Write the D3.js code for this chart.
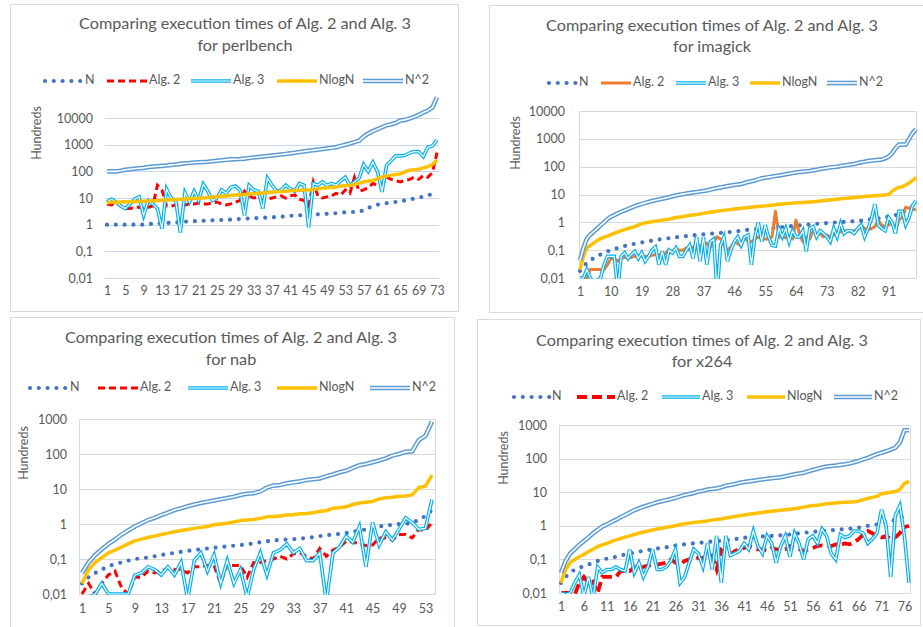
<!DOCTYPE html>
<html lang="en">
<head>
<meta charset="UTF-8" />
<script src="https://d3js.org/d3.v7.min.js"></script>
<style>
  body { margin: 0; background: #fff; }
  svg text { font-family: Lato, "Open Sans", sans-serif; fill: #595959; }
</style>
</head>
<body>
<div id="chart"></div>
<script>
// series names and y tick values
var seriesNames = ["N", "Alg. 2", "Alg. 3", "NlogN", "N^2"];
var ticksTop = [0.01, 0.1, 1, 10, 100, 1000, 10000];
var ticksBottom = [0.01, 0.1, 1, 10, 100, 1000];

// perlbench (73 runs), values in hundreds
var perlN = [1,1,1,1,1,1,1,1,1,1.05,
  1.08,1.1,1.12,1.15,1.18,1.2,1.25,1.3,1.32,1.35,
  1.38,1.4,1.43,1.45,1.48,1.5,1.52,1.55,1.6,1.63,
  1.67,1.7,1.74,1.78,1.82,1.85,1.88,1.95,2.0,2.05,
  2.15,2.2,2.25,2.3,2.35,2.4,2.45,2.5,2.55,2.6,
  2.7,2.8,2.9,2.95,3.0,3.1,3.4,4.2,5,5.6,
  6,6.4,6.8,7.1,7.5,8,8.6,9.5,10.5,11,
  12.5,14,15];
var perlAlg2 = [6,5.5,7,5,4,4,4.5,4.5,4,4.5,
  5,30,20,5,5,5.5,6,5.5,6,6,
  6.5,6,6,6.5,7,6,5.5,6,7,8,
  18,12,10,11,8,9,10,11,12,10,
  12,13,9,8,5,40,12,10,11,12,
  15,13,20,15,60,18,20,25,35,30,
  30,60,50,45,40,45,50,60,50,70,
  60,90,500];
var perlAlg3 = [7,9,7,5,4,6,9,11,2.2,8,
  6,4,0.7,22,10,8,0.5,16,7,18,
  8,33,18,8,10,20,15,25,28,20,
  2.2,30,20,18,4,55,30,18,20,30,
  22,18,35,30,0.8,35,30,40,30,35,
  30,45,60,30,40,55,180,100,220,100,
  17,170,250,380,380,400,480,550,550,360,
  800,900,1500];
var perlNlogN = [6.7,6.9,7,7.1,7.2,7.3,7.3,7.5,7.6,7.7,
  7.8,8,8.2,8.4,8.6,8.8,9,9.2,9.4,9.6,
  9.7,10,10.4,10.8,11.2,11.6,12,12.5,13,13.3,
  13.6,14,14.5,15,15.5,16,16.5,17,17.5,18,
  18.5,19,19.5,20,20,21,22,23,24,25,
  26,28,29,30,32,36,40,43,45,52,
  62,66,72,76,80,95,110,115,120,135,
  150,180,265];
var perlN2 = [100,100,100,105,115,120,125,130,135,145,
  150,155,160,165,175,180,190,200,205,215,
  220,225,230,240,250,260,270,280,285,290,
  300,315,330,345,360,375,390,410,430,450,
  470,500,530,560,590,620,650,690,720,760,
  800,900,1000,1100,1250,1400,2000,2600,3200,3800,
  4500,5300,5800,6500,8000,8500,9500,11000,13000,16000,
  19000,25000,60000];

// imagick (99 runs)
var imgN = [0.018,0.025,0.035,0.045,0.05,0.06,0.07,0.08,0.09,0.1,
  0.11,0.12,0.13,0.14,0.15,0.16,0.17,0.18,0.19,0.2,
  0.21,0.22,0.23,0.24,0.25,0.26,0.27,0.28,0.29,0.3,
  0.31,0.32,0.33,0.34,0.35,0.36,0.37,0.38,0.39,0.4,
  0.41,0.42,0.43,0.44,0.45,0.47,0.48,0.5,0.52,0.54,
  0.55,0.57,0.58,0.6,0.61,0.62,0.63,0.64,0.66,0.68,
  0.7,0.72,0.74,0.76,0.78,0.8,0.82,0.84,0.86,0.88,
  0.9,0.92,0.94,0.96,0.98,1.0,1.02,1.04,1.06,1.08,
  1.1,1.12,1.15,1.2,1.25,1.3,1.35,1.4,1.45,1.5,
  1.6,1.7,1.8,2.0,2.3,2.6,3.0,3.6,4.4];
var imgAlg2 = [0.01,0.01,0.01,0.02,0.02,0.02,0.02,0.02,0.03,0.05,
  0.05,0.04,0.05,0.055,0.055,0.055,0.06,0.06,0.06,0.06,
  0.06,0.065,0.07,0.07,0.06,0.08,0.1,0.09,0.11,0.1,
  0.1,0.12,0.1,0.13,0.15,0.14,0.16,0.18,0.12,0.2,
  0.3,0.25,0.15,0.1,0.13,0.2,0.17,0.15,0.3,0.2,
  0.2,0.25,0.3,0.25,0.25,0.25,0.3,2.5,0.3,0.3,
  0.28,0.3,0.25,1.2,0.4,0.2,0.3,0.25,0.5,0.35,
  0.4,0.3,0.35,0.3,0.35,0.5,0.45,0.5,0.5,0.45,
  0.5,0.55,0.8,0.6,0.55,0.6,0.7,1.2,0.8,0.7,
  0.8,1.0,0.5,1.2,1.5,3.5,3.2,3.0,2.8];
var imgAlg3 = [0.01,0.01,0.02,0.01,0.007,0.008,0.01,0.03,0.06,0.06,
  0.06,0.004,0.06,0.08,0.05,0.07,0.09,0.05,0.08,0.04,
  0.06,0.1,0.13,0.03,0.09,0.03,0.1,0.08,0.12,0.06,
  0.06,0.1,0.15,0.05,0.3,0.04,0.3,0.03,0.2,0.25,
  0.003,0.15,0.3,0.04,0.1,0.2,0.3,0.15,0.3,0.35,
  0.03,0.3,1.0,0.2,0.8,0.3,0.15,0.14,0.6,0.3,
  0.6,0.2,0.5,0.3,0.3,0.5,0.09,0.6,0.7,0.3,
  0.5,0.4,0.3,0.2,0.6,0.3,0.9,0.4,0.5,0.5,
  0.4,0.6,0.8,0.3,0.6,1.3,4.5,0.8,0.6,0.5,
  1.5,1.0,0.4,2.5,2.5,0.8,1.5,4.0,6.0];
var imgNlogN = [0.02,0.06,0.12,0.15,0.18,0.22,0.26,0.29,0.32,0.36,
  0.4,0.45,0.5,0.55,0.6,0.65,0.7,0.8,0.9,0.95,
  1.0,1.05,1.1,1.15,1.2,1.25,1.3,1.4,1.5,1.55,
  1.6,1.7,1.8,1.85,1.9,2.0,2.1,2.2,2.3,2.4,
  2.5,2.6,2.7,2.8,2.9,3.0,3.1,3.2,3.3,3.4,
  3.5,3.6,3.7,3.8,3.9,4.0,4.1,4.3,4.5,4.6,
  4.7,4.8,4.9,5.0,5.1,5.2,5.3,5.4,5.5,5.6,
  5.8,6.0,6.2,6.4,6.6,6.8,7.0,7.2,7.4,7.6,
  7.8,8.0,8.2,8.4,8.6,8.8,9.0,9.2,9.4,9.5,
  10,13,16,18,19,22,26,32,42];
var imgN2 = [0.044,0.12,0.26,0.36,0.46,0.6,0.78,1.0,1.3,1.6,
  1.8,2.1,2.4,2.7,3.0,3.4,3.8,4.2,4.6,5.0,
  5.4,5.8,6.2,6.6,7,7.5,8,8.6,9.2,9.8,
  10.3,10.8,11.3,11.8,12.3,12.8,13.4,14,15,16,
  17,18,19,20,21,22,23,24,26,28,
  30,32,35,38,40,42,44,46,48,50,
  53,56,59,62,64,66,68,70,74,78,
  82,86,90,94,97,100,105,110,115,120,
  125,135,145,150,160,165,170,175,180,200,
  230,300,450,620,620,620,1000,1600,2200];

// nab (54 runs)
var nabN = [0.02,0.03,0.04,0.05,0.062,0.072,0.08,0.09,0.1,0.105,
  0.11,0.12,0.13,0.14,0.15,0.16,0.17,0.18,0.19,0.2,
  0.21,0.22,0.23,0.24,0.25,0.26,0.28,0.3,0.32,0.34,
  0.35,0.36,0.37,0.38,0.4,0.42,0.45,0.48,0.5,0.52,
  0.55,0.6,0.65,0.7,0.75,0.85,0.9,0.95,1.0,1.0,
  1.1,1.3,1.7,2.5];
var nabAlg2 = [0.01,0.02,0.01,0.02,0.035,0.045,0.015,0.01,0.03,0.03,
  0.045,0.04,0.045,0.055,0.05,0.05,0.04,0.06,0.06,0.065,
  0.065,0.02,0.07,0.065,0.065,0.03,0.08,0.08,0.09,0.1,
  0.12,0.1,0.14,0.15,0.12,0.1,0.2,0.12,0.18,0.22,
  0.32,0.3,0.28,0.24,0.25,0.4,0.4,0.35,0.5,0.5,
  0.4,0.7,0.65,1.1];
var nabAlg3 = [0.008,0.008,0.01,0.02,0.01,0.01,0.01,0.01,0.035,0.04,
  0.06,0.05,0.035,0.06,0.035,0.08,0.007,0.09,0.15,0.045,
  0.13,0.02,0.09,0.02,0.05,0.008,0.05,0.15,0.035,0.15,
  0.18,0.27,0.15,0.2,0.09,0.09,0.15,0.006,0.15,0.22,
  0.45,0.3,0.85,0.06,1.1,0.25,0.6,0.35,0.7,1.5,
  1.1,0.7,0.75,5];
var nabNlogN = [0.02,0.05,0.08,0.11,0.15,0.18,0.22,0.27,0.33,0.37,
  0.41,0.45,0.5,0.55,0.6,0.65,0.7,0.75,0.8,0.85,
  0.95,1.0,1.05,1.15,1.25,1.3,1.35,1.45,1.6,1.65,
  1.7,1.8,1.85,1.95,2.0,2.1,2.3,2.4,2.8,2.9,
  3.1,3.6,4.0,4.2,4.4,5.2,5.6,5.8,6.2,6.3,
  6.8,11,12,25];
var nabN2 = [0.04,0.08,0.13,0.19,0.27,0.36,0.5,0.65,0.85,1.05,
  1.3,1.5,1.8,2.1,2.5,2.8,3.2,3.6,4.0,4.3,
  4.7,5.1,5.5,6,6.7,7.3,7.6,8.5,11,12.5,
  13,14.5,15.5,16.5,18,19,20,23,26,30,
  33,40,48,52,58,65,75,90,100,115,
  120,250,330,850];

// x264 (77 runs)
var x264N = [0.02,0.03,0.04,0.05,0.055,0.065,0.07,0.08,0.09,0.1,
  0.105,0.11,0.12,0.13,0.14,0.15,0.16,0.17,0.18,0.19,
  0.2,0.21,0.22,0.23,0.24,0.26,0.27,0.28,0.29,0.3,
  0.31,0.32,0.33,0.34,0.35,0.36,0.37,0.38,0.4,0.42,
  0.44,0.45,0.46,0.47,0.48,0.5,0.5,0.51,0.52,0.53,
  0.55,0.57,0.6,0.62,0.64,0.66,0.68,0.7,0.72,0.74,
  0.76,0.78,0.8,0.82,0.85,0.88,0.92,1.0,1.05,1.1,
  1.15,1.25,1.35,1.5,1.7,2.0,2.3];
var x264Alg2 = [0.01,0.01,0.01,0.009,0.02,0.03,0.02,0.022,0.01,0.03,
  0.03,0.03,0.03,0.045,0.045,0.045,0.06,0.05,0.06,0.065,
  0.07,0.07,0.075,0.08,0.1,0.08,0.07,0.09,0.1,0.1,
  0.11,0.11,0.12,0.13,0.05,0.19,0.15,0.14,0.18,0.2,
  0.22,0.25,0.22,0.2,0.2,0.18,0.22,0.2,0.2,0.2,
  0.25,0.22,0.2,0.18,0.2,0.22,0.25,0.26,0.25,0.25,
  0.28,0.27,0.3,0.28,0.32,0.4,0.55,0.7,0.6,0.5,
  0.45,0.5,0.4,0.45,0.6,0.9,1.0];
var x264Alg3 = [0.01,0.009,0.01,0.02,0.035,0.008,0.03,0.007,0.06,0.04,
  0.05,0.05,0.06,0.05,0.045,0.2,0.04,0.08,0.03,0.06,
  0.2,0.05,0.05,0.06,0.09,0.2,0.02,0.03,0.08,0.2,
  0.15,0.06,0.3,0.05,0.5,0.02,0.5,0.13,0.15,0.18,
  0.3,0.2,0.7,0.25,0.15,0.5,0.3,0.08,0.25,0.5,
  0.12,0.6,0.3,0.1,0.4,0.5,0.3,0.8,0.5,0.15,
  0.1,0.55,0.45,0.5,0.7,0.7,0.6,0.3,0.4,0.6,
  3.0,1.0,0.03,2.0,4.0,0.5,0.02];
var x264NlogN = [0.02,0.05,0.08,0.1,0.12,0.14,0.17,0.2,0.24,0.27,
  0.3,0.34,0.38,0.42,0.46,0.5,0.55,0.6,0.65,0.7,
  0.75,0.8,0.85,0.9,0.95,1.0,1.1,1.15,1.2,1.25,
  1.3,1.35,1.4,1.5,1.55,1.6,1.7,1.8,1.9,2.0,
  2.1,2.2,2.3,2.4,2.5,2.6,2.7,2.8,2.9,3.0,
  3.1,3.2,3.4,3.6,3.8,4.0,4.1,4.3,4.5,4.7,
  4.8,4.9,5.0,5.1,5.2,5.4,6,6.5,7,7.5,
  9,9.5,10,10.5,12,18,21];
var x264N2 = [0.04,0.09,0.15,0.2,0.27,0.35,0.45,0.6,0.75,0.95,
  1.1,1.3,1.5,1.8,2.1,2.5,2.9,3.3,3.7,4.1,
  4.5,5.0,5.4,5.8,6.3,6.8,7.5,8.2,8.8,9.5,
  10.5,11,12,12.5,13,14,15.5,16.5,17.5,19,
  20,21,22,23,24,25,26,27,28,30,
  32,34,36,38,42,46,50,54,58,60,
  62,65,68,72,78,85,95,105,120,135,
  150,165,185,210,300,700,700];

// layout of the four chart boxes
var panels = [
  { name: "perlbench", series: [perlN, perlAlg2, perlAlg3, perlNlogN, perlN2],
    box: [10, 4, 458, 311], titleX: 245, titleY: [25, 47],
    xr: [107, 437], plot: [105, 90, 439, 278], yr: [278, 118], ticks: ticksTop,
    every: 4, grid: "#c9d7ef", frame: false, xLabY: 295, yLabX: 93, hundreds: [38, 133],
    legY: 81, legX: [43, 107, 191, 277, 363], legW: 40, alg2: "red", dash: [3, "7 4"] },
  { name: "imagick", series: [imgN, imgAlg2, imgAlg3, imgNlogN, imgN2],
    box: [489, 5, 930, 312], titleX: 712, titleY: [27, 48],
    xr: [580, 916], plot: [579, 111, 916, 278], yr: [278, 111], ticks: ticksTop,
    every: 9, grid: "#d9d9d9", frame: true, xLabY: 296, yLabX: 565, hundreds: [517, 143],
    legY: 83, legX: [547, 601, 676, 750, 827], legW: 30, alg2: "orange", dash: [3, null] },
  { name: "nab", series: [nabN, nabAlg2, nabAlg3, nabNlogN, nabN2],
    box: [10, 317, 454, 640], titleX: 231, titleY: [339, 361],
    xr: [82, 432], plot: [79, 419, 435, 594], yr: [594, 419], ticks: ticksBottom,
    every: 4, grid: "#d9d9d9", frame: true, xLabY: 613, yLabX: 67, hundreds: [25, 453],
    legY: 388, legX: [28, 98, 188, 277, 370], legW: 40, alg2: "red", dash: [3, "7 4"] },
  { name: "x264", series: [x264N, x264Alg2, x264Alg3, x264NlogN, x264N2],
    box: [477, 319, 920, 625], titleX: 702, titleY: [342, 363],
    xr: [561, 909], plot: [559, 425, 910, 593], yr: [593, 425], ticks: ticksBottom,
    every: 5, grid: "#d9d9d9", frame: true, xLabY: 611, yLabX: 547, hundreds: [505, 458],
    legY: 397, legX: [512, 577, 662, 747, 834], legW: 38, alg2: "red", dash: [3.8, "10 5"] }
];

var svg = d3.select("#chart").append("svg")
  .attr("width", 923).attr("height", 627);

function fmt(v) { return String(v).replace(".", ","); }

// draw one series (or legend sample) with the Excel-like line style
function drawStyled(g, d, k, p) {
  if (k === 0) {
    g.append("path").attr("d", d).attr("fill", "none")
      .attr("stroke", "#4472c4").attr("stroke-width", 4.2)
      .attr("stroke-linecap", "round").attr("stroke-dasharray", "0 8.8");
  } else if (k === 1) {
    var a = g.append("path").attr("d", d).attr("fill", "none").attr("stroke-width", p.dash[0]);
    if (p.alg2 === "orange") a.attr("stroke", "#ed7d31").attr("stroke-linejoin", "round");
    else a.attr("stroke", "#ff0000").attr("stroke-dasharray", p.dash[1]);
  } else if (k === 2) {
    g.append("path").attr("d", d).attr("fill", "none").attr("stroke", "#00b0f0").attr("stroke-width", 3.6);
    g.append("path").attr("d", d).attr("fill", "none").attr("stroke", "#fff").attr("stroke-width", 1.2);
  } else if (k === 3) {
    g.append("path").attr("d", d).attr("fill", "none").attr("stroke", "#ffc000")
      .attr("stroke-width", 3.5).attr("stroke-linejoin", "round");
  } else {
    g.append("path").attr("d", d).attr("fill", "none").attr("stroke", "#5b9bd5").attr("stroke-width", 4.6);
    g.append("path").attr("d", d).attr("fill", "none").attr("stroke", "#fff").attr("stroke-width", 1.6);
  }
}

panels.forEach(function (p, pi) {
  var g = svg.append("g");
  var b = p.box;
  g.append("rect").attr("x", b[0] + 0.5).attr("y", b[1] + 0.5)
    .attr("width", b[2] - b[0]).attr("height", b[3] - b[1])
    .attr("fill", "#fff").attr("stroke", "#d9d9d9");

  // title
  var t1 = g.append("text").attr("x", p.titleX).attr("y", p.titleY[0])
    .attr("text-anchor", "middle").attr("dominant-baseline", "middle")
    .style("font-size", "15px").text("Comparing execution times of Alg. 2 and Alg. 3");
  var w = t1.node().getComputedTextLength();
  var fs = 15 * 332 / w;
  t1.style("font-size", fs + "px");
  g.append("text").attr("x", p.titleX).attr("y", p.titleY[1])
    .attr("text-anchor", "middle").attr("dominant-baseline", "middle")
    .style("font-size", fs + "px").text("for " + p.name);

  var n = p.series[0].length;
  var x = d3.scalePoint().domain(d3.range(1, n + 1)).range(p.xr);
  var y = d3.scaleLog().domain([0.01, p.ticks[p.ticks.length - 1]]).range(p.yr);
  var pl = p.plot;

  if (p.frame) {
    g.append("rect").attr("x", pl[0] + 0.5).attr("y", pl[1] + 0.5)
      .attr("width", pl[2] - pl[0]).attr("height", pl[3] - pl[1])
      .attr("fill", "none").attr("stroke", "#d9d9d9");
  }

  // gridlines
  g.append("g").selectAll("line").data(p.ticks).join("line")
    .attr("x1", pl[0]).attr("x2", pl[2])
    .attr("y1", function (d) { return Math.round(y(d)) + 0.5; })
    .attr("y2", function (d) { return Math.round(y(d)) + 0.5; })
    .attr("stroke", function (d) { return (!p.frame && d === 0.01) ? "#d9d9d9" : p.grid; })
    .attr("stroke-width", 1);

  // y axis labels
  var ya = g.append("g").attr("transform", "translate(" + p.yLabX + ",0)")
    .call(d3.axisLeft(y).tickValues(p.ticks).tickSize(0).tickPadding(0).tickFormat(fmt));
  ya.select(".domain").remove();
  ya.selectAll("text").style("font-size", "12.5px").style("font-family", "Lato, sans-serif").attr("fill", "#595959");

  // x axis labels
  var xt = d3.range(1, n + 1).filter(function (v) { return (v - 1) % p.every === 0; });
  var xa = g.append("g").attr("transform", "translate(0," + (p.xLabY - 9) + ")")
    .call(d3.axisBottom(x).tickValues(xt).tickSize(0).tickPadding(0));
  xa.select(".domain").remove();
  xa.selectAll("text").style("font-size", "12.5px").style("font-family", "Lato, sans-serif").attr("fill", "#595959");

  g.append("text").attr("transform", "translate(" + p.hundreds[0] + "," + p.hundreds[1] + ") rotate(-90)")
    .attr("text-anchor", "middle").attr("dominant-baseline", "middle")
    .style("font-size", "12.5px").text("Hundreds");

  // series lines, clipped to plot area
  g.append("clipPath").attr("id", "clip" + pi).append("rect")
    .attr("x", pl[0] - 2).attr("y", pl[1]).attr("width", pl[2] - pl[0] + 4).attr("height", pl[3] - pl[1] + 1);
  var lg = g.append("g").attr("clip-path", "url(#clip" + pi + ")");
  var line = d3.line().x(function (d, i) { return x(i + 1); }).y(function (d) { return y(d); });
  p.series.forEach(function (s, k) {
    drawStyled(lg.append("g"), line(s), k, p);
  });

  // legend
  seriesNames.forEach(function (nm, k) {
    var x0 = p.legX[k], x1 = x0 + p.legW;
    var d = "M" + (k === 0 ? x0 + 2 : x0) + "," + p.legY + "L" + x1 + "," + p.legY;
    drawStyled(g.append("g"), d, k, p);
    g.append("text").attr("x", x1 + 2).attr("y", p.legY)
      .attr("dominant-baseline", "middle").style("font-size", "12.5px").text(nm);
  });
});
</script>
</body>
</html>
